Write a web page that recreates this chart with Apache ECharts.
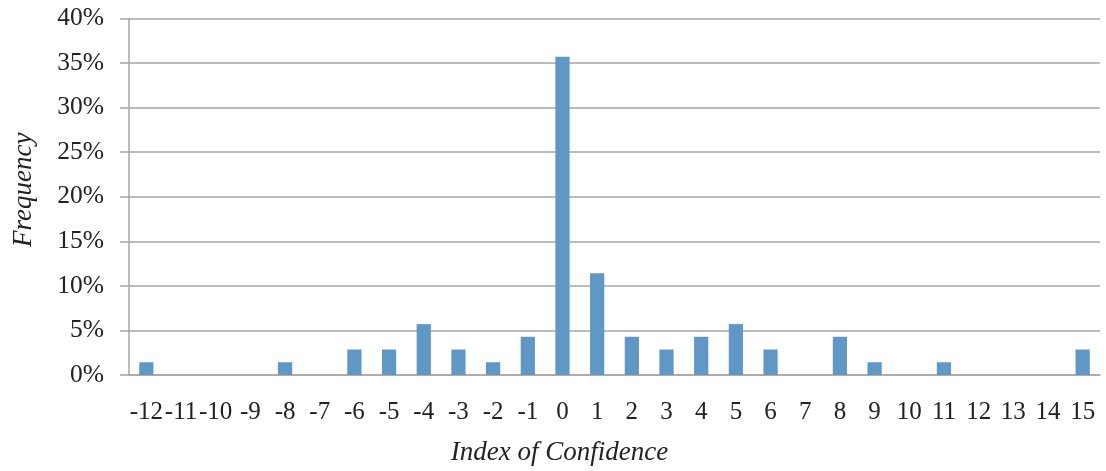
<!DOCTYPE html>
<html>
<head>
<meta charset="utf-8">
<script src="https://cdn.jsdelivr.net/npm/echarts@6/dist/echarts.min.js"></script>
<style>
html,body{margin:0;padding:0;background:#fff;}
#chart{width:1106px;height:471px;}
</style>
</head>
<body>
<div id="chart"></div>
<script>
var categories = ['-12','-11','-10','-9','-8','-7','-6','-5','-4','-3','-2','-1','0','1','2','3','4','5','6','7','8','9','10','11','12','13','14','15'];
var frequency = [1.43,0,0,0,1.43,0,2.86,2.86,5.71,2.86,1.43,4.29,35.71,11.43,4.29,2.86,4.29,5.71,2.86,0,4.29,1.43,0,1.43,0,0,0,2.86];
var yTicks = { min: 0, max: 40, interval: 5 };

var chart = echarts.init(document.getElementById('chart'));
var font = '"Liberation Serif", "Times New Roman", serif';
chart.setOption({
  animation: false,
  grid: { left: 129, right: 6, top: 18.5, bottom: 95.5 },
  xAxis: {
    type: 'category',
    data: categories,
    name: 'Index of Confidence',
    nameLocation: 'middle',
    nameGap: 64,
    nameTextStyle: { fontFamily: font, fontStyle: 'italic', fontSize: 27, color: '#222', padding: [0, 110, 0, 0] },
    axisLine: { lineStyle: { color: '#a6a6a6', width: 1.5 } },
    axisTick: { show: false },
    axisLabel: { fontFamily: font, fontSize: 25, color: '#222', margin: 25, interval: 0 }
  },
  yAxis: {
    type: 'value',
    min: yTicks.min, max: yTicks.max, interval: yTicks.interval,
    name: 'Frequency',
    nameLocation: 'middle',
    nameGap: 92,
    nameTextStyle: { fontFamily: font, fontStyle: 'italic', fontSize: 27, color: '#222', padding: [0, 0, 0, 14] },
    axisLine: { show: true, lineStyle: { color: '#a6a6a6', width: 1.5 } },
    axisTick: { show: true, length: 9, lineStyle: { color: '#a6a6a6', width: 1.5 } },
    axisLabel: { fontFamily: font, fontSize: 25.5, color: '#222', margin: 25, padding: [5, 0, 0, 0], formatter: '{value}%' },
    splitLine: { lineStyle: { color: '#a6a6a6', width: 1.5 } }
  },
  series: [{
    type: 'bar',
    data: frequency,
    barWidth: '41%',
    itemStyle: { color: '#5f97c7' }
  }]
});
</script>
</body>
</html>
